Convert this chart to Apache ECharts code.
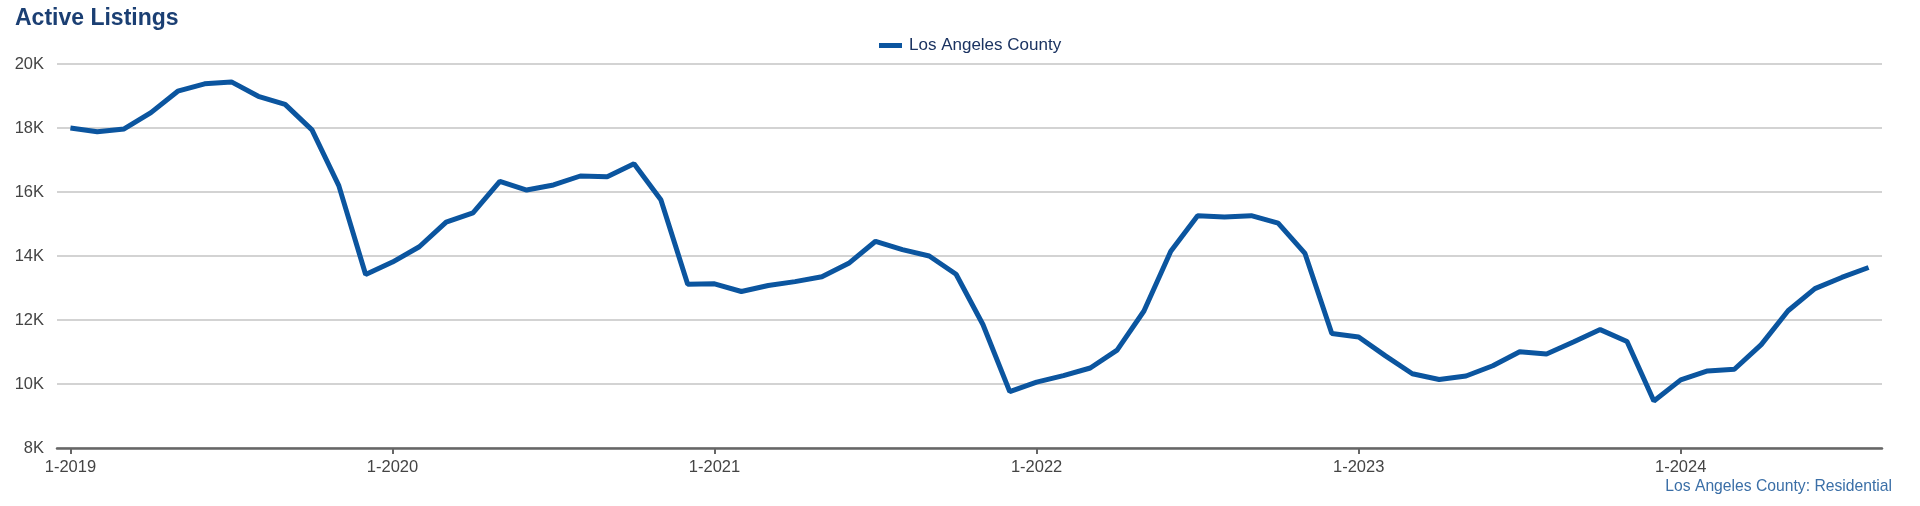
<!DOCTYPE html>
<html>
<head>
<meta charset="utf-8">
<script src="https://cdn.jsdelivr.net/npm/echarts@6/dist/echarts.min.js"></script>
<style>
html,body{margin:0;padding:0;background:#fff;}
#chart{width:1920px;height:506px;}
</style>
</head>
<body>
<div id="chart"></div>
<script>
const startYear = 2019;
const monthCount = 68;
const categories = [];
for (let i = 0; i < monthCount; i++) {
  categories.push(((i % 12) + 1) + '-' + (startYear + Math.floor(i / 12)));
}
const seriesName = 'Los Angeles County';
const activeListings = [
  18000, 17880, 17970, 18480, 19150, 19380, 19440, 18990, 18740, 17940, 16200, 13420,
  13810, 14290, 15060, 15350, 16330, 16060, 16220, 16500, 16480, 16880, 15760, 13120,
  13130, 12890, 13080, 13200, 13350, 13770, 14460, 14200, 14000, 13430, 11860, 9760,
  10060, 10260, 10500, 11060, 12280, 14150, 15260, 15220, 15260, 15030, 14080, 11580,
  11470, 10880, 10320, 10140, 10250, 10570, 11010, 10940, 11310, 11700, 11330, 9470,
  10130, 10410, 10460, 11230, 12290, 12980, 13330, 13640
];
const yTicks = [8000, 10000, 12000, 14000, 16000, 18000, 20000];
const titleText = 'Active Listings';
const sourceText = 'Los Angeles County: Residential';

const FONT = 'Liberation Sans, Arial, sans-serif';
const chart = echarts.init(document.getElementById('chart'));
chart.setOption({
  animation: false,
  backgroundColor: '#ffffff',
  textStyle: { fontFamily: FONT },
  title: {
    text: titleText,
    left: 10, top: 2,
    textStyle: { fontSize: 23, fontWeight: 'bold', color: '#1b3f73', fontFamily: FONT }
  },
  graphic: [{
    type: 'text', right: 28, top: 479,
    style: { text: sourceText, fill: '#3b6fa7', fontSize: 15.7, fontFamily: FONT }
  }],
  legend: {
    data: [seriesName],
    top: 32, left: 874,
    itemWidth: 23, itemHeight: 5, itemGap: 10,
    icon: 'rect',
    textStyle: { fontSize: 17, color: '#1b3361', fontFamily: FONT, padding: [0, 0, 0, 2] }
  },
  grid: { left: 57, right: 38, top: 64, bottom: 58, containLabel: false },
  xAxis: {
    type: 'category',
    data: categories,
    boundaryGap: true,
    axisLine: { lineStyle: { color: '#666666', width: 2.5 } },
    axisTick: { show: true, alignWithLabel: true, interval: 11, length: 6, lineStyle: { color: '#666666', width: 2 } },
    axisLabel: { interval: 11, color: '#444444', fontSize: 16.5, margin: 11, fontFamily: FONT },
    splitLine: { show: false }
  },
  yAxis: {
    type: 'value',
    min: yTicks[0], max: yTicks[yTicks.length - 1], interval: 2000,
    axisLine: { show: false },
    axisTick: { show: false },
    axisLabel: {
      color: '#444444', fontSize: 16.5, margin: 13, fontFamily: FONT,
      formatter: v => (v / 1000) + 'K'
    },
    splitLine: { lineStyle: { color: '#c4c4c4', width: 1.5 } }
  },
  series: [{
    name: seriesName,
    type: 'line',
    data: activeListings,
    symbol: 'none',
    smooth: false,
    lineStyle: { color: '#0b559f', width: 5 },
    itemStyle: { color: '#0b559f' }
  }]
});
</script>
</body>
</html>
